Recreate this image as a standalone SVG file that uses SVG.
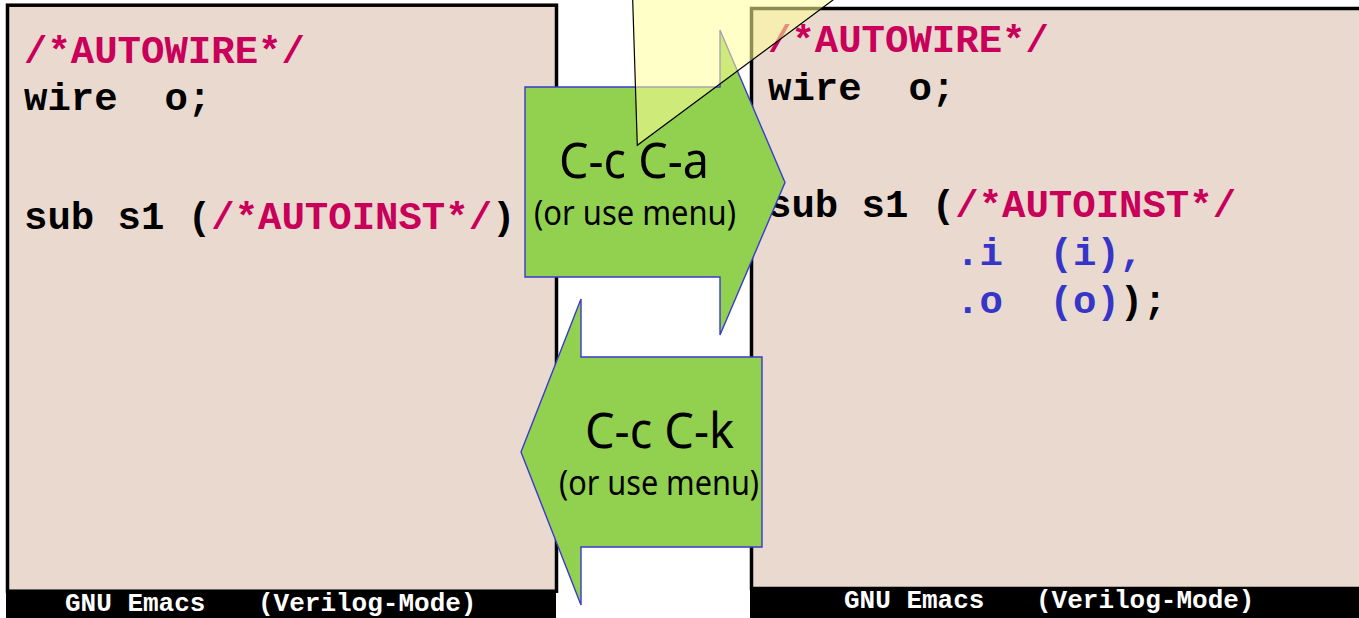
<svg xmlns="http://www.w3.org/2000/svg" width="1359" height="618" viewBox="0 0 1359 618">
  <style>
    .pane { fill: #EAD9CF; stroke: #000; stroke-width: 3.5; }
    .bar { fill: #000; }
    .code { font-family: "Liberation Mono", "Courier New", monospace; font-weight: bold; font-size: 39px; fill: #000; white-space: pre; }
    .cmt { fill: #C8005A; }
    .ins { fill: #3535C8; }
    .status { font-family: "Liberation Mono", "Courier New", monospace; font-weight: bold; font-size: 26px; fill: #fff; }
    .arrow { fill: #92D050; stroke: #3A3ACC; stroke-width: 1.4; stroke-linejoin: miter; }
    .key { font-family: "Noto Sans", "Liberation Sans", sans-serif; fill: #000; }
    .callout { fill: #FFFF99; fill-opacity: 0.55; stroke: #000; stroke-width: 1.2; }
  </style>

  <rect width="1359" height="618" fill="#fff"/>

  <!-- Emacs buffer before expansion -->
  <g id="buffer-before">
    <rect class="pane" x="7.5" y="5.2" width="549" height="586"/>
    <rect class="bar" x="6" y="590.5" width="550" height="27.5"/>
    <text class="code cmt" x="24" y="63">/*AUTOWIRE*/</text>
    <text class="code" x="24" y="110" xml:space="preserve">wire  o;</text>
    <text class="code" x="24" y="229">sub s1 (<tspan class="cmt">/*AUTOINST*/</tspan>)</text>
    <text class="status" x="65" y="611">GNU Emacs</text>
    <text class="status" x="258" y="611">(Verilog-Mode)</text>
  </g>

  <!-- Emacs buffer after expansion -->
  <g id="buffer-after">
    <rect class="pane" x="751.5" y="8.5" width="700" height="580" stroke-width="3"/>
    <rect class="bar" x="750" y="587.5" width="609" height="30.5"/>
    <text class="code cmt" x="768" y="52">/*AUTOWIRE*/</text>
    <text class="code" x="768" y="100" xml:space="preserve">wire  o;</text>
    <text class="code" x="768" y="217">sub s1 (<tspan class="cmt">/*AUTOINST*/</tspan></text>
    <text class="code ins" x="956" y="265" xml:space="preserve">.i  (i),</text>
    <text class="code" x="956" y="313" xml:space="preserve"><tspan class="ins">.o  (o)</tspan>);</text>
    <text class="status" x="844" y="608">GNU Emacs</text>
    <text class="status" x="1036" y="608">(Verilog-Mode)</text>
  </g>

  <!-- Key bindings that switch between the two buffers -->
  <g id="connectors">
    <g id="expand">
      <polygon class="arrow" points="525,87 720,87 720,30 785,182.5 720,335 720,277 525,277"/>
      <text class="key" x="559" y="178" font-size="50" textLength="150" lengthAdjust="spacingAndGlyphs">C-c C-a</text>
      <text class="key" x="534" y="225" font-size="34" textLength="202" lengthAdjust="spacingAndGlyphs">(or use menu)</text>
    </g>
    <g id="delete">
      <polygon class="arrow" points="762,357 581,357 581,299 521,452 581,605 581,547 762,547"/>
      <text class="key" x="585" y="448" font-size="49" textLength="149" lengthAdjust="spacingAndGlyphs">C-c C-k</text>
      <text class="key" x="559" y="495" font-size="34" textLength="200" lengthAdjust="spacingAndGlyphs">(or use menu)</text>
    </g>
  </g>

  <!-- Pointer of the note balloon -->
  <g id="callout">
    <polygon class="callout" points="632.6,-3 637.3,145.3 837,-3"/>
  </g>
</svg>
